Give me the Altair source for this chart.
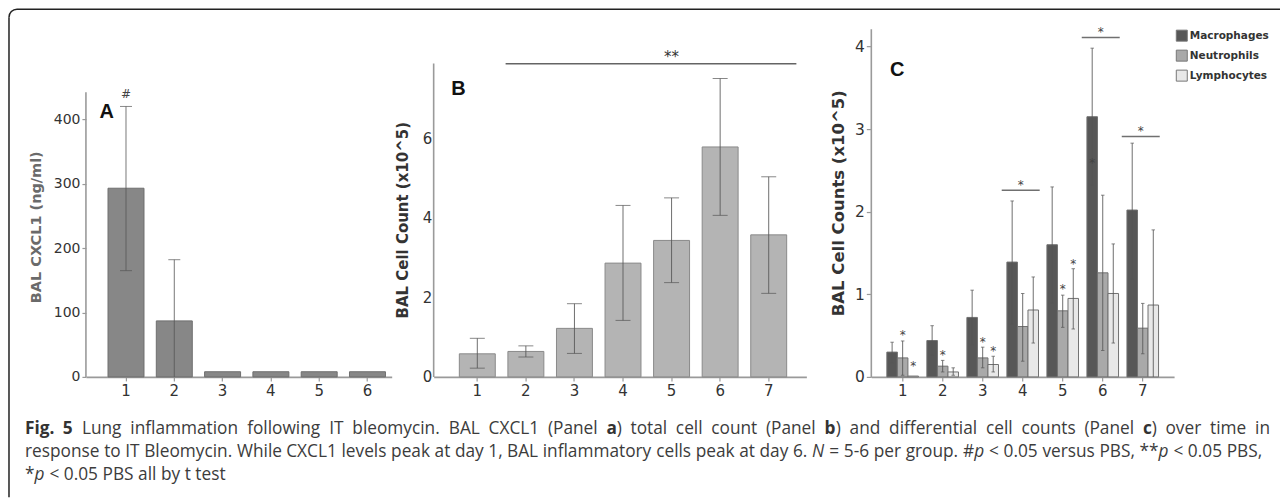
import altair as alt
import pandas as pd

FONT = "DejaVu Sans"
CAP_FONT = "Open Sans"
AXC = "#9a9a9a"

# ---------------- Panel A : BAL CXCL1 ----------------
a_days = ["1", "2", "3", "4", "5", "6"]
a_mean = [293, 87, 8, 8, 8, 8]
a_hi = [420, 182, None, None, None, None]
a_lo = [165, 0, None, None, None, None]
a_ticks = [0, 100, 200, 300, 400]
a_note_day = ["1"]
a_note_y = [440]
a_note_txt = ["#"]

# ---------------- Panel B : total cell count ----------------
b_days = ["1", "2", "3", "4", "5", "6", "7"]
b_mean = [0.58, 0.64, 1.22, 2.86, 3.43, 5.78, 3.57]
b_hi = [0.97, 0.78, 1.84, 4.31, 4.50, 7.50, 5.03]
b_lo = [0.22, 0.50, 0.59, 1.42, 2.37, 4.06, 2.10]
b_ticks = [0, 2, 4, 6]
b_sig_day = ["5"]
b_sig_y = [7.87]
b_sig_txt_y = [8.13]
b_sig_txt = ["**"]

# ---------------- Panel C : differential counts ----------------
c_days = ["1", "2", "3", "4", "5", "6", "7"]
cell_types = ["Macrophages", "Neutrophils", "Lymphocytes"]
cell_colors = ["#575757", "#a9a9a9", "#e8e8e8"]
mac_mean = [0.30, 0.44, 0.72, 1.39, 1.60, 3.15, 2.02]
mac_hi = [0.42, 0.62, 1.05, 2.13, 2.30, 3.98, 2.83]
mac_lo = [0.17, 0.26, 0.39, 0.64, 0.89, 2.32, 1.18]
neu_mean = [0.23, 0.13, 0.23, 0.61, 0.80, 1.26, 0.59]
neu_hi = [0.435, 0.20, 0.36, 1.01, 0.99, 2.20, 0.89]
neu_lo = [0.02, 0.06, 0.11, 0.19, 0.60, 0.32, 0.28]
lym_mean = [0.01, 0.06, 0.15, 0.81, 0.95, 1.01, 0.87]
lym_hi = [None, 0.11, 0.25, 1.21, 1.31, 1.61, 1.78]
lym_lo = [None, 0.02, 0.06, 0.41, 0.58, 0.41, 0.0]
c_ticks = [0, 1, 2, 3, 4]
c_star_day = ["1", "1", "2", "3", "3", "5", "5", "6"]
c_star_type = ["Neutrophils", "Lymphocytes", "Neutrophils", "Neutrophils",
               "Lymphocytes", "Neutrophils", "Lymphocytes", "Macrophages"]
c_star_y = [0.544, 0.173, 0.306, 0.455, 0.354, 1.10, 1.40, 2.63]
c_sig_day = ["4", "6", "7"]
c_sig_y = [2.26, 4.11, 2.91]
c_sig_star_y = [2.36, 4.21, 3.01]

# caption: § toggles bold, ~ toggles italic
caption_lines = [
    "§Fig.§ §5§ Lung inflammation following IT bleomycin. BAL CXCL1 (Panel §a§) total cell count (Panel §b§) and differential cell counts (Panel §c§) over time in",
    "response to IT Bleomycin. While CXCL1 levels peak at day 1, BAL inflammatory cells peak at day 6. ~N~ = 5-6 per group. #~p~ < 0.05 versus PBS, **~p~ < 0.05 PBS,",
    "*~p~ < 0.05 PBS all by t test",
]

# ---------------- tables ----------------
dfA = pd.DataFrame({"day": a_days, "mean": a_mean, "hi": a_hi, "lo": a_lo})
dfB = pd.DataFrame({"day": b_days, "mean": b_mean, "hi": b_hi, "lo": b_lo})
rows = []
for i, d in enumerate(c_days):
    for t, m, h, l in zip(cell_types,
                          [mac_mean[i], neu_mean[i], lym_mean[i]],
                          [mac_hi[i], neu_hi[i], lym_hi[i]],
                          [mac_lo[i], neu_lo[i], lym_lo[i]]):
        rows.append({"day": d, "type": t, "mean": m, "hi": h, "lo": l})
dfC = pd.DataFrame(rows)


def xaxis():
    return alt.Axis(title=None, labelAngle=0, labelFont=FONT, labelFontSize=15,
                    labelColor="#333", domainColor=AXC, domainWidth=1.6,
                    tickColor=AXC, tickSize=4, tickWidth=1.2, labelPadding=3)


def yaxis(vals, title, size, color, weight, tx, ty, lsize, tick):
    return alt.Axis(values=vals, title=title, domain=False, grid=False, format="d",
                    labelFont=FONT, labelFontSize=lsize, labelColor="#333",
                    tickColor=AXC, tickSize=tick, tickWidth=1.2, labelPadding=2,
                    titleFont=FONT, titleFontSize=size, titleColor=color,
                    titleFontWeight=weight, titleX=tx, titleY=ty,
                    titleBaseline="middle", titleAngle=270)


def one(**kw):
    return pd.DataFrame({k: [v] for k, v in kw.items()})


# ---------------- caption layout (approximate Open Sans advance widths, em) ----------------
OS_W = {" ": .26, "(": .296, ")": .296, "*": .551, "#": .646, ",": .245, "-": .322,
        ".": .266, "/": .367, "<": .572, "=": .572,
        "A": .633, "B": .648, "C": .631, "D": .729, "E": .556, "F": .516, "G": .728,
        "H": .738, "I": .279, "L": .519, "N": .754, "P": .602, "S": .549, "T": .553,
        "W": .899, "X": .577,
        "a": .556, "b": .613, "c": .476, "d": .613, "e": .561, "f": .339, "g": .548,
        "h": .614, "i": .253, "j": .253, "k": .525, "l": .253, "m": .930, "n": .614,
        "o": .604, "p": .613, "q": .613, "r": .408, "s": .477, "t": .353, "u": .614,
        "v": .501, "w": .778, "x": .524, "y": .502, "z": .477}
STYLE_F = {"r": 1.0, "b": 1.06, "i": 0.98}


def run_width(text, style, fs):
    return sum(OS_W.get(ch, .572) for ch in text) * fs * STYLE_F[style]


def parse_word(word):
    runs, cur, style = [], "", "r"
    for ch in word:
        if ch in "§~":
            if cur:
                runs.append((cur, style))
            cur = ""
            mark = "b" if ch == "§" else "i"
            style = "r" if style == mark else mark
        else:
            cur += ch
    if cur:
        runs.append((cur, style))
    return runs


CAP_FS = 17.3
ORIGIN_X, ORIGIN_Y = 86, 29.3          # absolute position of panel A's plot origin
cap_left = 25
cap_targets = [1271, 1263, None]        # justified line ends (last line ragged)
cap_baselines = [434.5, 457.5, 480.5]
cap_runs = []
for line, target, base in zip(caption_lines, cap_targets, cap_baselines):
    words = [parse_word(w) for w in line.split(" ")]
    widths = [sum(run_width(t, s, CAP_FS) for t, s in w) for w in words]
    space = OS_W[" "] * CAP_FS
    gap = space
    if target is not None and len(words) > 1:
        gap = space + (target - cap_left - sum(widths) - space * (len(words) - 1)) / (len(words) - 1)
    x = cap_left
    for w, wd in zip(words, widths):
        xx = x
        for t, s in w:
            cap_runs.append((t, s, xx - ORIGIN_X, base - ORIGIN_Y))
            xx += run_width(t, s, CAP_FS)
        x += wd + gap

caption_marks = []
for t, s, px, py in cap_runs:
    caption_marks.append(
        alt.Chart(one(t=t)).mark_text(
            font=CAP_FONT, fontSize=CAP_FS, color="#333" if s == "b" else "#3c3c3c",
            fontWeight="bold" if s == "b" else "normal",
            fontStyle="italic" if s == "i" else "normal",
            align="left", baseline="alphabetic").encode(
            x=alt.value(px), y=alt.value(py), text="t:N"))

# ================= Panel A =================
xA = alt.X("day:N", scale=alt.Scale(domain=a_days, paddingInner=0.255,
                                     paddingOuter=0.293, align=0.78), axis=xaxis())
yA_scale = alt.Scale(domain=[0, 540], nice=False)
baseA = alt.Chart(dfA)
barsA = baseA.mark_bar(color="#878787", stroke="#6e6e6e", strokeWidth=1).encode(
    x=xA,
    y=alt.Y("mean:Q", scale=yA_scale,
            axis=yaxis(a_ticks, "BAL CXCL1 (ng/ml)", 14.5, "#6a6a6a", "bold",
                       -49, 197.7, 14, 4)))
errA = baseA.transform_filter("datum.hi != null").mark_rule(
    color="#555", strokeWidth=1, opacity=0.8).encode(x="day:N", y="lo:Q", y2="hi:Q")
capA_hi = baseA.transform_filter("datum.hi != null").mark_tick(
    color="#555", size=12, thickness=1, orient="horizontal").encode(x="day:N", y="hi:Q")
capA_lo = baseA.transform_filter("datum.lo > 0").mark_tick(
    color="#555", size=12, thickness=1, orient="horizontal").encode(x="day:N", y="lo:Q")
noteA = alt.Chart(pd.DataFrame({"day": a_note_day, "v": a_note_y, "t": a_note_txt})).mark_text(
    font=FONT, fontSize=12, color="#444", baseline="middle").encode(
    x="day:N", y="v:Q", text="t:N")
axisA = alt.Chart(one(y0=0, y1=442)).mark_rule(color=AXC, strokeWidth=1.6).encode(
    x=alt.value(0), y="y0:Q", y2="y1:Q")
labA = alt.Chart(one(t="A")).mark_text(font="Liberation Sans", fontSize=20, fontWeight="bold",
                                        color="#111", baseline="middle").encode(
    x=alt.value(20.7), y=alt.value(82.4), text="t:N")

# frame (top-left rounded corner), drawn relative to panel A's origin
FR = "#222"
frame_top = alt.Chart(one(k=1)).mark_rule(color=FR, strokeWidth=1.5).encode(
    x=alt.value(-69), x2=alt.value(1195), y=alt.value(-20))
frame_left = alt.Chart(one(k=1)).mark_rule(color=FR, strokeWidth=1.5).encode(
    x=alt.value(-77), y=alt.value(-12), y2=alt.value(468.5))
frame_corner = alt.Chart(one(k=1)).mark_arc(
    theta=4.7124, theta2=6.2832, innerRadius=7.25, outerRadius=8.75, color=FR).encode(
    x=alt.value(-69), y=alt.value(-12))

panelA = alt.layer(barsA, errA, capA_hi, capA_lo, noteA, axisA, labA,
                   frame_top, frame_left, frame_corner, *caption_marks
                   ).properties(width=306, height=348)

# ================= Panel B =================
xB = alt.X("day:N", scale=alt.Scale(domain=b_days, paddingInner=0.26,
                                     paddingOuter=0.467, align=0.566), axis=xaxis())
yB_scale = alt.Scale(domain=[0, 8.74], nice=False)
baseB = alt.Chart(dfB)
barsB = baseB.mark_bar(color="#b4b4b4", stroke="#8a8a8a", strokeWidth=1).encode(
    x=xB,
    y=alt.Y("mean:Q", scale=yB_scale,
            axis=yaxis(b_ticks, "BAL Cell Count (x10^5)", 15, "#333", "bold",
                       -31.3, 190.7, 15, 0)))
errB = baseB.mark_rule(color="#555", strokeWidth=1, opacity=0.85).encode(
    x="day:N", y="lo:Q", y2="hi:Q")
capB_hi = baseB.mark_tick(color="#555", size=15, thickness=1, orient="horizontal").encode(
    x="day:N", y="hi:Q")
capB_lo = baseB.mark_tick(color="#555", size=15, thickness=1, orient="horizontal").encode(
    x="day:N", y="lo:Q")
sigB = alt.Chart(pd.DataFrame({"day": b_sig_day, "v": b_sig_y})).mark_tick(
    color="#222", size=291, thickness=1.5, orient="horizontal", xOffset=-20.6).encode(
    x="day:N", y="v:Q")
sigBt = alt.Chart(pd.DataFrame({"day": b_sig_day, "v": b_sig_txt_y, "t": b_sig_txt})).mark_text(
    font=FONT, fontSize=15, color="#333", baseline="middle", dy=4).encode(
    x="day:N", y="v:Q", text="t:N")
axisB = alt.Chart(one(y0=0, y1=7.88)).mark_rule(color=AXC, strokeWidth=1.6).encode(
    x=alt.value(0), y="y0:Q", y2="y1:Q")
labB = alt.Chart(one(t="B")).mark_text(font="Liberation Sans", fontSize=20, fontWeight="bold",
                                        color="#111", baseline="middle").encode(
    x=alt.value(24.7), y=alt.value(59.9), text="t:N")
panelB = alt.layer(barsB, errB, capB_hi, capB_lo, sigB, sigBt, axisB, labB
                   ).properties(width=373, height=348)

# ================= Panel C =================
xC = alt.X("day:N", scale=alt.Scale(domain=c_days, paddingInner=0.21,
                                     paddingOuter=0.388), axis=xaxis())
yC_scale = alt.Scale(domain=[0, 4.21], nice=False)
offC = alt.XOffset("type:N", scale=alt.Scale(domain=cell_types, paddingInner=0,
                                              paddingOuter=0))
baseC = alt.Chart(dfC)
barsC = baseC.mark_bar(stroke="#707070", strokeWidth=1).encode(
    x=xC, xOffset=offC,
    y=alt.Y("mean:Q", scale=yC_scale, stack=None,
            axis=yaxis(c_ticks, "BAL Cell Counts (x10^5)", 16.5, "#333", "bold",
                       -33, 173.7, 15.5, 5)),
    color=alt.Color("type:N", scale=alt.Scale(domain=cell_types, range=cell_colors),
                    legend=alt.Legend(title=None, orient="none",
                                      legendX=1176.7 - ORIGIN_X, legendY=0.5,
                                      symbolType="square", symbolSize=121,
                                      symbolStrokeColor="#777", symbolStrokeWidth=1,
                                      symbolOpacity=1, labelFont=FONT, labelFontSize=10.5,
                                      labelFontWeight="bold", labelColor="#333",
                                      rowPadding=4, labelOffset=2, padding=0,
                                      symbolOffset=0)))
errC = baseC.transform_filter("datum.hi != null").mark_rule(
    color="#555", strokeWidth=1, opacity=0.85).encode(
    x="day:N", xOffset="type:N", y="lo:Q", y2="hi:Q")
capC_hi = baseC.transform_filter("datum.hi != null").mark_tick(
    color="#555", size=3.5, thickness=1, orient="horizontal").encode(
    x="day:N", xOffset="type:N", y="hi:Q")
capC_lo = baseC.transform_filter("datum.lo > 0").mark_tick(
    color="#555", size=3.5, thickness=1, orient="horizontal").encode(
    x="day:N", xOffset="type:N", y="lo:Q")
starsC = alt.Chart(pd.DataFrame({"day": c_star_day, "type": c_star_type, "v": c_star_y})).mark_text(
    text="*", font=FONT, fontSize=12, color="#444", baseline="middle", dy=3).encode(
    x="day:N", xOffset="type:N", y="v:Q")
sigC = alt.Chart(pd.DataFrame({"day": c_sig_day, "v": c_sig_y})).mark_tick(
    color="#333", size=38, thickness=1.5, orient="horizontal", xOffset=-2).encode(
    x="day:N", y="v:Q")
sigCt = alt.Chart(pd.DataFrame({"day": c_sig_day, "v": c_sig_star_y})).mark_text(
    text="*", font=FONT, fontSize=12, color="#444", baseline="middle", dy=3, dx=-2).encode(
    x="day:N", y="v:Q")
axisC = alt.Chart(one(y0=0, y1=4.21)).mark_rule(color=AXC, strokeWidth=1.6).encode(
    x=alt.value(0), y="y0:Q", y2="y1:Q")
labC = alt.Chart(one(t="C")).mark_text(font="Liberation Sans", fontSize=20, fontWeight="bold",
                                        color="#111", baseline="middle").encode(
    x=alt.value(26), y=alt.value(40.7), text="t:N")
panelC = alt.layer(barsC, errC, capC_hi, capC_lo, starsC, sigC, sigCt, axisC, labC
                   ).properties(width=303, height=348)

right = alt.hconcat(panelB, panelC, spacing=65, bounds="flush")
chart = alt.hconcat(panelA, right, spacing=42, bounds="flush").properties(
    padding={"left": 8, "top": 8, "right": 0, "bottom": 0},
    background="white",
).configure_view(stroke=None).configure_axis(grid=False)

chart.save("out.html", embed_options={"renderer": "svg", "actions": False})
